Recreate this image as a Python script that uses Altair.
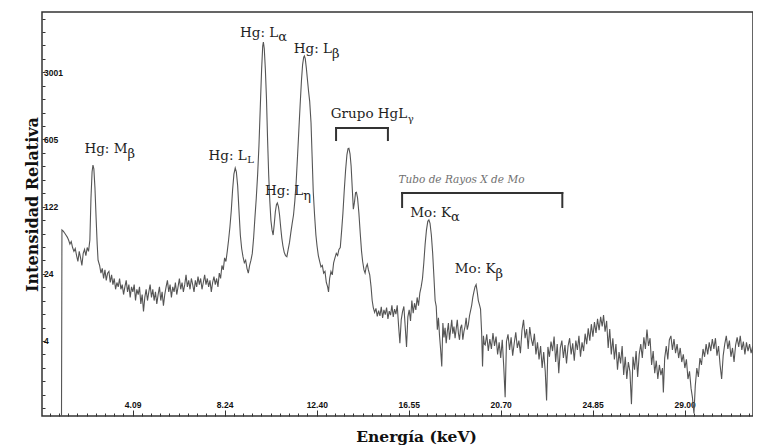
import json
import altair as alt
import pandas as pd

# ---------------- spectrum (energy in keV, relative intensity) ----------------
seg_a_kev = [0.88, 0.90, 0.96, 1.02, 1.08, 1.14, 1.20, 1.26, 1.32, 1.38,
             1.44, 1.50, 1.56, 1.62, 1.68, 1.74, 1.80, 1.86, 1.92, 1.98,
             2.04, 2.10, 2.16, 2.21, 2.26, 2.30, 2.34, 2.39, 2.44, 2.49]
seg_a_cts = [0.83, 70, 68, 65, 62, 59, 55, 50, 53, 46,
             42, 45, 38, 33, 42, 36, 30, 40, 44, 38,
             46, 42, 55, 150, 280, 329, 300, 190, 95, 50]

seg_b_kev = [2.53, 2.60, 2.66, 2.72, 2.78, 2.84, 2.90, 2.96, 3.02, 3.08,
             3.14, 3.20, 3.26, 3.32, 3.38, 3.44, 3.50, 3.56, 3.62, 3.68,
             3.74, 3.80, 3.86, 3.92, 3.98, 4.04, 4.10, 4.16, 4.22, 4.28,
             4.34, 4.40, 4.46, 4.52, 4.58, 4.64, 4.70, 4.76, 4.82, 4.88,
             4.94, 5.00, 5.06, 5.12, 5.18, 5.24, 5.30, 5.36, 5.42, 5.48,
             5.54, 5.60, 5.66, 5.72, 5.78, 5.84, 5.90, 5.96, 6.02, 6.08,
             6.14, 6.20, 6.26, 6.32, 6.38, 6.44, 6.50, 6.56, 6.62, 6.68,
             6.74, 6.80, 6.86, 6.92, 6.98, 7.04, 7.10, 7.16, 7.22, 7.28,
             7.34, 7.40, 7.46, 7.52, 7.58, 7.64, 7.70, 7.76, 7.82, 7.88,
             7.94, 8.00, 8.06, 8.12, 8.18, 8.24, 8.30, 8.36]
seg_b_cts = [34, 30, 25, 28, 22, 27, 21, 25, 26, 20,
             24, 19, 22, 17, 20, 18, 22, 17, 19, 15,
             18, 21, 16, 19, 14, 18, 16, 19, 13, 17,
             15, 18, 12, 15, 10, 14, 17, 13, 16, 19,
             14, 17, 13, 16, 12, 15, 18, 13, 16, 11.5,
             15, 18, 21, 16, 19, 14, 18, 16, 20, 15,
             18, 22, 17, 20, 16, 19, 24, 18, 21, 17,
             22, 19, 16, 21, 18, 23, 19, 22, 17, 20,
             24, 19, 22, 18, 21, 16, 20, 23, 19, 22,
             18, 25, 22, 30, 27, 36, 33, 42]

seg_c_kev = [8.42, 8.48, 8.54, 8.60, 8.66, 8.72, 8.77, 8.83, 8.89, 8.95,
             9.01, 9.07, 9.13, 9.19, 9.25, 9.31, 9.37, 9.43, 9.49, 9.55,
             9.61, 9.67, 9.73, 9.79, 9.85, 9.91, 9.96, 9.99, 10.03, 10.08,
             10.13, 10.18, 10.23, 10.28, 10.33, 10.38, 10.43, 10.48, 10.53, 10.58,
             10.62, 10.67, 10.72, 10.77, 10.82, 10.87, 10.93, 10.99, 11.05, 11.11,
             11.17, 11.23, 11.29, 11.35, 11.41, 11.47, 11.53, 11.59, 11.65, 11.71,
             11.76, 11.81, 11.84, 11.88, 11.93, 11.98, 12.03, 12.08, 12.14, 12.19,
             12.24, 12.30, 12.36, 12.41, 12.47, 12.53, 12.59, 12.65, 12.71, 12.77,
             12.83, 12.89, 12.93, 12.98, 13.04, 13.10, 13.16, 13.22, 13.28, 13.34,
             13.40, 13.46, 13.52, 13.58, 13.64, 13.70, 13.76, 13.81, 13.85, 13.90,
             13.95, 14.00, 14.05, 14.10, 14.15, 14.19, 14.24, 14.30, 14.36, 14.42,
             14.47, 14.53, 14.58, 14.63, 14.68, 14.73, 14.79, 14.85, 14.90]
seg_c_cts = [55, 75, 110, 180, 265, 306, 280, 200, 110, 62,
             45, 37, 32, 34, 28, 25, 30, 34, 40, 58,
             95, 150, 260, 520, 1300, 3200, 5600, 6180, 5300, 3200,
             1600, 600, 260, 140, 88, 70, 62, 80, 108, 128,
             133, 122, 100, 75, 58, 48, 41, 38, 37, 44,
             52, 66, 82, 100, 140, 220, 400, 750, 1400, 2500,
             3600, 4300, 4430, 4150, 3300, 2500, 1900, 1500, 900, 400,
             175, 100, 62, 48, 38, 33, 29, 30, 25, 26,
             20, 18, 16, 22, 26, 24, 32, 36, 40, 38,
             44, 46, 68, 105, 180, 290, 420, 485, 490, 430,
             320, 190, 115, 135, 170, 172, 150, 105, 65, 42,
             33, 27, 25, 29, 31, 27, 24, 18, 13]

seg_d_kev = [14.95, 15.01, 15.07, 15.13, 15.19, 15.25, 15.31, 15.37, 15.43, 15.49,
             15.55, 15.61, 15.67, 15.73, 15.79, 15.85, 15.91, 15.97, 16.03, 16.09,
             16.15, 16.21, 16.27, 16.33, 16.39, 16.45, 16.51, 16.57, 16.63, 16.69,
             16.75, 16.81, 16.87, 16.93, 16.99, 17.05, 17.11, 17.17, 17.23, 17.29,
             17.35, 17.41, 17.46, 17.51, 17.57, 17.63, 17.69, 17.74, 17.79, 17.84,
             17.89, 17.94, 17.99, 18.04, 18.09, 18.14, 18.19, 18.24, 18.29, 18.34,
             18.39, 18.44, 18.49, 18.54, 18.59, 18.64, 18.69, 18.74, 18.79, 18.84,
             18.89, 18.94, 18.99, 19.04, 19.09, 19.14, 19.19, 19.24, 19.29, 19.34,
             19.39, 19.44, 19.49, 19.54, 19.59, 19.64, 19.69, 19.74, 19.79, 19.84,
             19.88, 19.92, 19.96]
seg_d_cts = [11, 9.8, 10.8, 8.9, 10.2, 9.0, 11.2, 8.6, 10.4, 9.3,
             11.0, 8.4, 10.1, 9.2, 11.6, 8.8, 10.6, 9.4, 11.6, 7.2,
             4.7, 8.2, 10.0, 11.3, 7.0, 4.3, 8.8, 10.4, 8.0, 13.0,
             9.6, 12.2, 10.4, 14.0, 11.5, 15.5, 18, 22, 32, 50,
             70, 86, 89, 82, 62, 40, 22, 13, 11.3, 6.5,
             8.6, 5.6, 4.0, 2.7, 7.6, 5.4, 6.8, 4.7, 6.2, 7.6,
             5.1, 6.5, 8.2, 5.9, 7.0, 5.3, 6.6, 8.2, 6.0, 5.1,
             6.8, 7.3, 5.1, 6.2, 7.0, 8.6, 6.5, 7.3, 9.0, 10.2,
             11.6, 14, 16, 18, 19, 16, 13, 11.8, 10.6, 6.0,
             2.7, 5.6, 4.6]

seg_e_kev = [20.00, 20.07, 20.14, 20.21, 20.28, 20.35, 20.42, 20.49, 20.56, 20.63,
             20.70, 20.77, 20.84, 20.90, 20.96, 21.03, 21.10, 21.17, 21.24, 21.31,
             21.38, 21.45, 21.52, 21.59, 21.66, 21.73, 21.80, 21.87, 21.94, 22.01,
             22.08, 22.15, 22.22, 22.29, 22.36, 22.43, 22.50, 22.57, 22.64, 22.71,
             22.77, 22.83, 22.90, 22.97, 23.04, 23.11, 23.18, 23.25, 23.32, 23.39,
             23.46, 23.53, 23.60, 23.67, 23.74, 23.81, 23.88, 23.95, 24.02, 24.09,
             24.16, 24.23, 24.30, 24.37, 24.44, 24.51, 24.58, 24.65, 24.72, 24.79,
             24.86, 24.93, 25.00, 25.07, 25.14, 25.21, 25.28, 25.34, 25.41, 25.48,
             25.55, 25.62, 25.69, 25.76, 25.83, 25.90, 25.97, 26.04, 26.11, 26.18,
             26.25, 26.32, 26.39, 26.46, 26.53, 26.60, 26.67, 26.74, 26.81, 26.88,
             26.95, 27.02, 27.09, 27.16, 27.23, 27.30, 27.37, 27.44, 27.51, 27.58,
             27.65, 27.72, 27.79, 27.86, 27.93, 28.00, 28.04, 28.10, 28.17, 28.24,
             28.31, 28.38, 28.45, 28.52, 28.59, 28.66, 28.73, 28.80, 28.87, 28.94,
             29.01, 29.08, 29.15, 29.22, 29.29, 29.35, 29.42, 29.48, 29.55, 29.62,
             29.69, 29.76, 29.83, 29.90, 29.97, 30.04, 30.11, 30.18, 30.25, 30.32,
             30.39, 30.46, 30.53, 30.60, 30.67, 30.74, 30.81, 30.88, 30.95, 31.02,
             31.09, 31.16, 31.23, 31.30, 31.37, 31.44, 31.51, 31.58, 31.65, 31.72,
             31.79, 31.86, 31.93, 32.00, 32.07, 32.11, 32.13]
seg_e_cts = [4.5, 5.8, 3.9, 5.2, 4.1, 6.0, 4.4, 5.5, 3.6, 4.8,
             3.3, 5.1, 2.6, 1.3, 4.9, 5.8, 4.0, 5.4, 3.5, 4.7,
             6.1, 4.2, 5.0, 3.7, 6.4, 8.2, 5.3, 6.6, 4.1, 6.9,
             5.2, 4.4, 5.9, 3.6, 4.8, 3.2, 4.4, 2.6, 3.8, 2.4,
             1.2, 4.3, 3.4, 4.9, 3.9, 5.5, 3.0, 4.6, 2.3, 4.2,
             5.0, 3.3, 4.5, 2.9, 4.4, 5.3, 3.6, 4.7, 3.1, 5.0,
             4.0, 5.6, 3.4, 4.8, 3.9, 5.9, 4.6, 6.7, 5.0, 7.4,
             5.5, 7.8, 6.0, 8.4, 6.4, 8.8, 7.0, 9.2, 6.2, 8.0,
             4.2, 6.6, 3.6, 5.3, 3.2, 4.6, 2.5, 3.8, 2.9, 4.4,
             2.2, 3.4, 2.0, 3.0, 2.4, 1.1, 3.4, 2.5, 3.9, 2.1,
             3.6, 4.6, 3.3, 5.4, 4.1, 6.5, 4.4, 5.3, 2.8, 3.9,
             2.3, 3.1, 2.0, 2.8, 2.2, 2.6, 1.45, 3.3, 4.4, 3.2,
             5.1, 5.6, 4.0, 5.2, 3.7, 4.6, 3.3, 4.2, 3.0, 3.6,
             2.6, 3.2, 2.0, 2.4, 1.6, 1.3, 0.88, 1.7, 2.6, 2.1,
             3.3, 2.8, 4.1, 3.4, 4.6, 3.6, 4.8, 3.9, 5.2, 4.1,
             5.3, 3.5, 4.4, 2.8, 2.0, 3.5, 4.6, 5.6, 4.1, 5.0,
             3.4, 4.2, 3.0, 4.5, 5.4, 4.3, 5.6, 4.0, 4.9, 3.6,
             4.8, 3.9, 4.6, 3.7, 4.4, 3.5, 0.83]

energy_kev = seg_a_kev + seg_b_kev + seg_c_kev + seg_d_kev + seg_e_kev
intensity = seg_a_cts + seg_b_cts + seg_c_cts + seg_d_cts + seg_e_cts
assert len(energy_kev) == len(intensity)

# ---------------- axes ----------------
x_domain = [0, 32.085]
y_domain = [0.829, 12637]
x_tick_values = [4.09, 8.24, 12.40, 16.55, 20.70, 24.85, 29.00]
x_tick_labels = ["4.09", "8.24", "12.40", "16.55", "20.70", "24.85", "29.00"]
y_tick_values = [4.957, 24.59, 121.97, 605.0, 3001.0]
y_tick_labels = ["4", "24", "122", "605", "3001"]

# ---------------- annotations ----------------
label_main = ["Hg: M", "Hg: L", "Hg: L", "Hg: L", "Hg: L", "Grupo HgL", "Mo: K", "Mo: K"]
label_sub = ["β", "L", "α", "β", "η", "γ", "α", "β"]
label_kev = [3.86, 9.24, 10.66, 13.09, 11.79, 16.48, 18.46, 20.47]
label_int = [435, 371, 7013, 4721, 161, 1002, 96, 24.9]
small_subscripts = ["L", "γ"]

bracket_start = [13.27, 16.25]
bracket_end = [15.61, 23.48]
bracket_top = [795, 169]
bracket_bottom = [597, 121]

note_text = ["Tubo de Rayos X de Mo"]
note_kev = [18.93]
note_int = [214]

# ---------------- tick sets (axis decoration) ----------------
step = (x_tick_values[-1] - x_tick_values[0]) / (len(x_tick_values) - 1) / 10
x_minor = []
for k in range(-10, 90):
    v = round(x_tick_values[0] + k * step, 4)
    if 0 < v < x_domain[1] and k % 10 != 0:
        x_minor.append(v)
x_all = sorted(x_tick_values + x_minor)

ratio = (y_tick_values[1] / y_tick_values[0]) ** (1 / 5)
y_all = list(y_tick_values)
for base in y_tick_values:
    for j in range(1, 5):
        y_all.append(round(base * ratio ** j, 4))
for j in range(1, 6):
    y_all.append(round(y_tick_values[0] / ratio ** j, 4))
y_all = sorted(v for v in y_all if y_domain[0] <= v <= y_domain[1])

xv = json.dumps(x_tick_values)
yv = json.dumps(y_tick_values)
x_label_expr = f"indexof({xv}, datum.value) >= 0 ? {json.dumps(x_tick_labels)}[indexof({xv}, datum.value)] : ''"
y_label_expr = f"indexof({yv}, datum.value) >= 0 ? {json.dumps(y_tick_labels)}[indexof({yv}, datum.value)] : ''"
x_dash = {"condition": {"test": f"indexof({xv}, datum.value) >= 0", "value": [10, 0]},
          "value": [0, 3, 3, 0]}

xs = alt.Scale(domain=x_domain, nice=False, zero=False)
ys = alt.Scale(type="log", domain=y_domain, nice=False)

SERIF = "DejaVu Serif"
TXT = "#1e1e1e"

x_axis = alt.Axis(
    title="Energía (keV)", values=x_all, labelExpr=x_label_expr, grid=False, domain=False,
    offset=-6, tickSize=6, tickColor="#333", tickWidth=1, tickDash=x_dash,
    labelFont="Liberation Sans", labelFontWeight="bold", labelFontSize=8.5, labelColor="#111",
    labelBaseline="middle", labelPadding=-11.5, labelOverlap=False, labelFlush=False,
    titleFont=SERIF, titleFontSize=15.5, titleFontWeight="bold", titleColor="#111",
    titleX=374, titleY=31, titleAlign="center", titleBaseline="alphabetic")
y_axis = alt.Axis(
    title="Intensidad Relativa", values=y_all, labelExpr=y_label_expr, grid=False, domain=False,
    offset=-3, tickSize=3, tickColor="#333", tickWidth=1,
    labelFont="Liberation Sans", labelFontWeight="bold", labelFontSize=8.5, labelColor="#111",
    labelAlign="left", labelBaseline="middle", labelPadding=-1.5, labelOverlap=False,
    titleFont=SERIF, titleFontSize=16, titleFontWeight="bold", titleColor="#111",
    titleX=-8, titleY=192, titleAngle=270, titleAlign="center", titleBaseline="alphabetic")


def X(field):
    return alt.X(field, scale=xs, axis=x_axis)


def Y(field):
    return alt.Y(field, scale=ys, axis=y_axis)


spec_df = pd.DataFrame({"kev": energy_kev, "cts": intensity})
lab_df = pd.DataFrame({"main": label_main, "sub": label_sub, "kev": label_kev, "cts": label_int})
br_df = pd.DataFrame({"kev": bracket_start, "end": bracket_end, "cts": bracket_top, "bottom": bracket_bottom})
note_df = pd.DataFrame({"text": note_text, "kev": note_kev, "cts": note_int})

line = alt.Chart(spec_df).mark_line(color="#555555", strokeWidth=1.1, clip=True).encode(
    x=X("kev:Q"), y=Y("cts:Q"))

main_txt = alt.Chart(lab_df).mark_text(
    align="right", baseline="alphabetic", font=SERIF, fontSize=13.5, color=TXT
).encode(x=X("kev:Q"), y=Y("cts:Q"), text="main:N")

small_list = json.dumps(small_subscripts, ensure_ascii=False)
sub_txt = alt.Chart(lab_df).transform_filter(f"indexof({small_list}, datum.sub) < 0").mark_text(
    align="left", baseline="alphabetic", font=SERIF, fontSize=13, color=TXT, dy=4.5
).encode(x=X("kev:Q"), y=Y("cts:Q"), text="sub:N")
sub_small = alt.Chart(lab_df).transform_filter(f"indexof({small_list}, datum.sub) >= 0").mark_text(
    align="left", baseline="alphabetic", font=SERIF, fontSize=10, color=TXT, dx=0.5, dy=3.5
).encode(x=X("kev:Q"), y=Y("cts:Q"), text="sub:N")

br_h = alt.Chart(br_df).mark_rule(color="#333", strokeWidth=2, strokeCap="square").encode(
    x=X("kev:Q"), x2="end:Q", y=Y("cts:Q"))
br_v = alt.Chart(br_df).transform_fold(["kev", "end"], as_=["side", "edge"]).transform_calculate(
    kev="datum.edge").mark_rule(color="#333", strokeWidth=2, strokeCap="square").encode(
    x=X("kev:Q"), y=Y("cts:Q"), y2="bottom:Q")

note = alt.Chart(note_df).mark_text(
    align="center", baseline="alphabetic", font=SERIF, fontStyle="italic", fontSize=10.5, color="#707070"
).encode(x=X("kev:Q"), y=Y("cts:Q"), text="text:N")

chart = alt.layer(line, br_h, br_v, main_txt, sub_txt, sub_small, note).properties(
    width=711, height=404,
    autosize=alt.AutoSizeParams(type="none"),
    padding={"left": 34, "top": 4, "right": 0, "bottom": 31},
    background="white",
).configure_view(stroke="#333", strokeWidth=1.5)

chart.save("out.html", embed_options={"renderer": "svg", "actions": False})
